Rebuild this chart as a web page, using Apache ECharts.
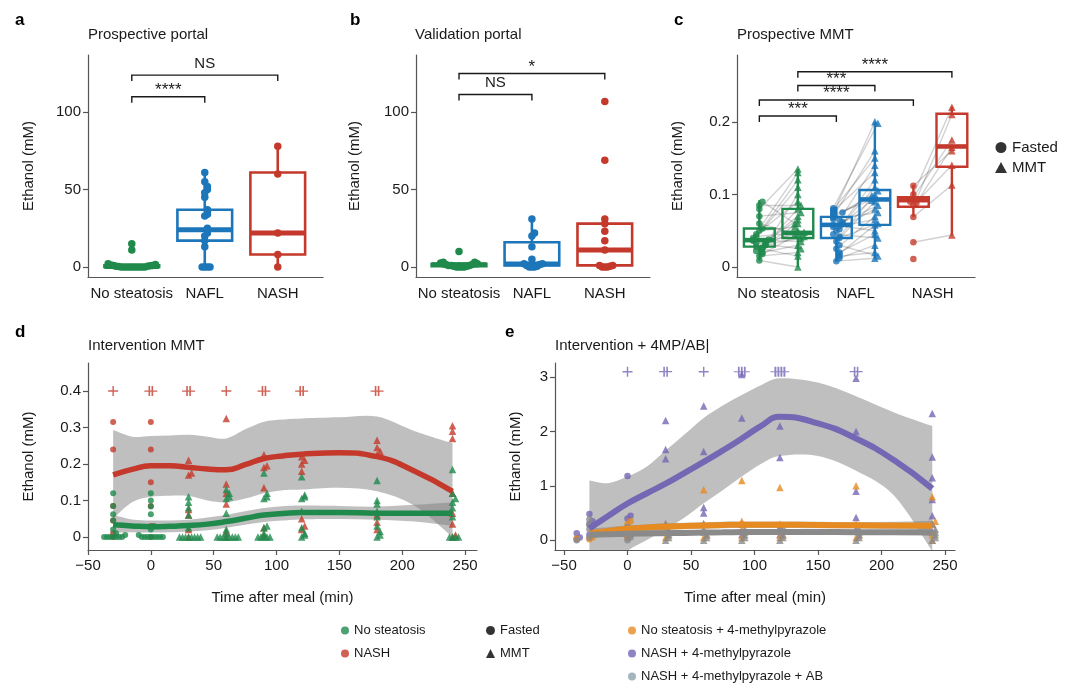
<!DOCTYPE html>
<html>
<head>
<meta charset="utf-8">
<script src="https://cdn.jsdelivr.net/npm/echarts@6/dist/echarts.min.js"></script>
<style>
html, body { margin: 0; background: #fff; }
#main { width: 1080px; height: 692px; }
</style>
</head>
<body>
<div id="main"></div>
<script>
// ---------- data ----------
const catsABC = ['No steatosis', 'NAFL', 'NASH'];

// a: prospective portal (mM)
const aNoSteatosis = [0, 0, 0, 0, 0, 0, 0, 0, 0, 0, 0.3, 0.5, 0.5, 0.8, 1, 1, 1.2, 1.5, 2, 11, 15];
const aNAFL = [0, 0, 0, 0, 13, 17, 20, 22, 24, 25, 33, 34, 36, 37, 45, 48, 50, 52, 55, 61];
const aNASH = [0, 8, 22, 60, 78];
const aBoxes = [[0, 0, 0.3, 1, 2], [0, 17, 24, 37, 61], [0, 8, 22, 61, 78]]; // min q1 med q3 max
const aBrackets = [[1, 2, 110], [1, 3, 124]];
const aBracketLabels = ['****', 'NS'];

// b: validation portal (mM)
const bNoSteatosis = [0, 0, 0, 0, 0.5, 0.5, 1, 1, 1, 1.5, 1.5, 2, 2, 2, 2.5, 3, 3, 10];
const bNAFL = [0, 0, 0, 0.5, 1, 1.5, 2, 2, 5, 13, 20, 22, 31];
const bNASH = [0, 0, 0, 0.5, 1, 1, 11, 17, 23, 28, 31, 69, 107];
const bBoxes = [[0, 0.5, 1.5, 2, 3], [0, 1, 2, 16, 31], [0, 1, 11, 28, 31]];
const bBrackets = [[1, 2, 111.5], [1, 3, 125]];
const bBracketLabels = ['NS', '*'];

// c: prospective MMT, paired fasted / MMT values (mM)
const cNSFasted = [0.009, 0.015, 0.018, 0.02, 0.022, 0.025, 0.027, 0.028, 0.03, 0.031, 0.033, 0.034, 0.035, 0.036, 0.037, 0.038, 0.04, 0.042, 0.045, 0.05, 0.053, 0.06, 0.07, 0.08, 0.085, 0.09];
const cNSMMT = [0, 0.02, 0.045, 0.03, 0.06, 0.015, 0.08, 0.04, 0.1, 0.05, 0.025, 0.07, 0.045, 0.11, 0.035, 0.065, 0.13, 0.048, 0.09, 0.055, 0.12, 0.042, 0.075, 0.135, 0.085, 0.06];
const cNAFLFasted = [0.008, 0.012, 0.015, 0.018, 0.02, 0.025, 0.03, 0.035, 0.04, 0.042, 0.045, 0.05, 0.052, 0.055, 0.057, 0.058, 0.06, 0.062, 0.065, 0.066, 0.068, 0.07, 0.072, 0.074, 0.075, 0.077, 0.079, 0.081];
const cNAFLMMT = [0.012, 0.03, 0.02, 0.058, 0.045, 0.07, 0.015, 0.09, 0.06, 0.1, 0.04, 0.11, 0.08, 0.065, 0.095, 0.05, 0.12, 0.085, 0.14, 0.075, 0.105, 0.16, 0.092, 0.2, 0.098, 0.13, 0.15, 0.198];
const cNASHFasted = [0.011, 0.034, 0.069, 0.085, 0.088, 0.09, 0.093, 0.1, 0.112];
const cNASHMMT = [null, 0.044, 0.113, 0.14, 0.165, 0.175, 0.21, 0.22, 0.16];
const cBoxes = [
  [0.009, 0.028, 0.037, 0.053, 0.092], [0, 0.04, 0.047, 0.08, 0.135],
  [0.007, 0.04, 0.058, 0.069, 0.083], [0.012, 0.058, 0.093, 0.106, 0.2],
  [0.069, 0.083, 0.092, 0.096, 0.113], [0.044, 0.138, 0.166, 0.211, 0.221]
];
const cBrackets = [[0.75, 1.75, 0.208], [0.75, 2.75, 0.23], [1.25, 2.25, 0.25], [1.25, 3.25, 0.269]];
const cBracketLabels = ['***', '****', '***', '****'];

// d: intervention MMT, values per sampling time
const dTimes = [-30, 0, 30, 60, 90, 120, 180, 240];
const dNoSteatosis = [
  [0, 0, 0, 0, 0, 0, 0, 0.005, 0.01, 0.02, 0.045, 0.062, 0.085, 0.12],
  [0, 0, 0, 0, 0, 0, 0, 0, 0.005, 0.02, 0.03, 0.062, 0.083, 0.1, 0.12],
  [0, 0, 0, 0, 0, 0, 0, 0, 0.025, 0.06, 0.08, 0.095, 0.11],
  [0, 0, 0, 0, 0, 0, 0, 0, 0.01, 0.02, 0.065, 0.105, 0.11, 0.12, 0.13],
  [0, 0, 0, 0, 0, 0.01, 0.025, 0.03, 0.105, 0.11, 0.12, 0.175],
  [0, 0.005, 0.01, 0.025, 0.07, 0.105, 0.11, 0.115, 0.165],
  [0, 0.005, 0.015, 0.03, 0.055, 0.07, 0.09, 0.1, 0.155],
  [0, 0, 0, 0, 0.055, 0.08, 0.095, 0.105, 0.12, 0.185]
];
const dNASH = [
  [0, 0.01, 0.045, 0.085, 0.24, 0.315],
  [0, 0.03, 0.085, 0.15, 0.24, 0.315],
  [0, 0.02, 0.06, 0.075, 0.17, 0.175, 0.21],
  [0, 0.015, 0.09, 0.12, 0.145, 0.325],
  [0.005, 0.025, 0.135, 0.19, 0.195, 0.225],
  [0.02, 0.03, 0.05, 0.18, 0.2, 0.21, 0.22],
  [0.02, 0.04, 0.06, 0.225, 0.235, 0.245, 0.265],
  [0, 0.005, 0.035, 0.065, 0.12, 0.27, 0.29, 0.305]
];
const fitTimes = [-30, -15, 0, 15, 30, 45, 60, 75, 90, 105, 120, 150, 180, 210, 240];
const dNASHFit = [0.17, 0.185, 0.195, 0.195, 0.191, 0.186, 0.184, 0.198, 0.215, 0.222, 0.227, 0.231, 0.22, 0.18, 0.125];
const dNASHHi = [0.293, 0.275, 0.277, 0.278, 0.28, 0.275, 0.27, 0.295, 0.316, 0.322, 0.325, 0.328, 0.33, 0.29, 0.257];
const dNASHLo = [0.05, 0.095, 0.11, 0.113, 0.112, 0.1, 0.095, 0.105, 0.12, 0.128, 0.13, 0.135, 0.125, 0.085, 0];
const dNSFit = [0.033, 0.03, 0.028, 0.029, 0.031, 0.035, 0.042, 0.051, 0.06, 0.064, 0.067, 0.067, 0.065, 0.065, 0.065];
const dNSHi = [0.06, 0.048, 0.045, 0.045, 0.047, 0.053, 0.06, 0.07, 0.079, 0.084, 0.086, 0.085, 0.083, 0.088, 0.095];
const dNSLo = [0.012, 0.013, 0.012, 0.013, 0.015, 0.018, 0.025, 0.033, 0.041, 0.045, 0.048, 0.049, 0.047, 0.042, 0.03];
const dSigTimes = [-30, 0, 30, 60, 90, 120, 180];
const dSigCounts = [1, 2, 2, 1, 2, 2, 2];

// e: intervention + 4MP/AB
const eTimes = [-40, -30, 0, 30, 60, 90, 120, 180, 240];
const eNS4MP = [
  [0.03], [0.02, 0.05, 0.1, 0.15], [0.05, 0.1, 0.2, 0.3, 0.35], [0.05, 0.1, 0.2, 0.3],
  [0.05, 0.1, 0.3, 0.93], [0.05, 0.2, 0.35, 1.1], [0.05, 0.1, 0.3, 0.97],
  [0.05, 0.1, 0.3, 1.0], [0, 0.1, 0.3, 0.35, 0.8]
];
const eNASH4MP = [
  [0.02, 0.05, 0.13], [0.1, 0.3, 0.35, 0.48], [0.05, 0.4, 0.45, 1.18], [0.15, 0.3, 1.5, 1.67, 2.2],
  [0.15, 0.3, 0.5, 0.6, 1.63, 2.47], [0.1, 0.3, 2.25, 3.05], [0.1, 0.25, 1.52, 2.1],
  [0.2, 0.42, 0.9, 2.0, 2.98], [0.15, 0.45, 0.75, 1.15, 1.53, 2.33]
];
const eNASH4MPAB = [
  [0], [0.05, 0.1, 0.2, 0.28, 0.38], [0, 0.05, 0.1, 0.15, 0.25], [0, 0.05, 0.1, 0.15, 0.2, 0.3],
  [0, 0.05, 0.1, 0.2, 0.3], [0, 0.05, 0.1, 0.15, 0.2], [0, 0.05, 0.1, 0.2, 0.25],
  [0, 0.05, 0.1, 0.15, 0.2], [0, 0.05, 0.1, 0.15, 0.2, 0.3]
];
const eNASH4MPFit = [0.215, 0.45, 0.675, 0.86, 1.04, 1.24, 1.44, 1.65, 1.87, 2.1, 2.27, 2.15, 1.87, 1.47, 0.95];
const eNASH4MPHi = [1.1, 1.05, 1.17, 1.35, 1.65, 1.95, 2.25, 2.48, 2.67, 2.85, 2.98, 2.9, 2.65, 2.35, 2.1];
const eNASH4MPLo = [-1.0, -0.6, -0.2, 0, 0.2, 0.42, 0.68, 0.92, 1.17, 1.4, 1.55, 1.55, 1.28, 0.82, -0.2];
const eNS4MPFit = [0.12, 0.17, 0.21, 0.235, 0.25, 0.26, 0.27, 0.28, 0.285, 0.285, 0.285, 0.28, 0.275, 0.27, 0.265];
const eNS4MPHi = [0.22, 0.24, 0.27, 0.29, 0.31, 0.32, 0.33, 0.34, 0.345, 0.345, 0.345, 0.34, 0.335, 0.34, 0.36];
const eNS4MPLo = [0.02, 0.1, 0.15, 0.18, 0.19, 0.2, 0.21, 0.22, 0.225, 0.225, 0.225, 0.22, 0.215, 0.2, 0.17];
const eABFit = [0.1, 0.11, 0.12, 0.125, 0.13, 0.135, 0.14, 0.145, 0.15, 0.152, 0.152, 0.15, 0.148, 0.145, 0.14];
const eABHi = [0.16, 0.15, 0.155, 0.16, 0.165, 0.17, 0.175, 0.18, 0.185, 0.187, 0.187, 0.185, 0.183, 0.185, 0.19];
const eABLo = [0.04, 0.07, 0.085, 0.09, 0.095, 0.1, 0.105, 0.11, 0.115, 0.117, 0.117, 0.115, 0.113, 0.105, 0.09];
const eSigTimes = [0, 30, 60, 90, 120, 180];
const eSigCounts = [1, 2, 1, 3, 4, 2];

// ---------- styling ----------
const FONT = '"Liberation Sans", Arial, Helvetica, sans-serif';
const INK = '#1a1a1a';
const AXIS = '#555555';
const GREEN = '#1f8a4c';
const BLUE = '#1c76b9';
const RED = '#c4392b';
const ORANGE = '#e58b22';
const PURPLE = '#7467b3';
const ABDOT = '#8fa3ad';
const ABLINE = '#8a8a8a';
const BANDFILL = 'rgba(128,128,128,0.5)';

const chart = echarts.init(document.getElementById('main'), null, { renderer: 'canvas' });

// simple beeswarm so overlapping points spread sideways
function swarm(values, center, stepX, thrY) {
  const placed = [];
  return values.map(v => {
    if (v === null) return null;
    const k = placed.filter(p => Math.abs(p - v) < thrY).length;
    placed.push(v);
    const off = k === 0 ? 0 : (k % 2 ? 1 : -1) * Math.ceil(k / 2) * stepX;
    return [center + off, v];
  });
}

function boxRender(colors, halfW, lw) {
  return function (params, api) {
    const x = api.value(0);
    const mn = api.value(1), q1 = api.value(2), md = api.value(3), q3 = api.value(4), mx = api.value(5);
    const c = colors[params.dataIndex];
    const tl = api.coord([x - halfW, q3]);
    const br = api.coord([x + halfW, q1]);
    const pMin = api.coord([x, mn]), pQ1 = api.coord([x, q1]);
    const pQ3 = api.coord([x, q3]), pMax = api.coord([x, mx]);
    const mL = api.coord([x - halfW, md]), mR = api.coord([x + halfW, md]);
    return {
      type: 'group',
      children: [
        { type: 'line', shape: { x1: pMin[0], y1: pMin[1], x2: pQ1[0], y2: pQ1[1] }, style: { stroke: c, lineWidth: lw } },
        { type: 'line', shape: { x1: pQ3[0], y1: pQ3[1], x2: pMax[0], y2: pMax[1] }, style: { stroke: c, lineWidth: lw } },
        { type: 'rect', shape: { x: tl[0], y: tl[1], width: br[0] - tl[0], height: Math.max(br[1] - tl[1], 0.5) },
          style: { stroke: c, lineWidth: lw, fill: 'rgba(255,255,255,0)' } },
        { type: 'line', shape: { x1: mL[0], y1: mL[1], x2: mR[0], y2: mR[1] }, style: { stroke: c, lineWidth: lw * 1.9 } }
      ]
    };
  };
}

function bracketRender(labels) {
  return function (params, api) {
    const a = api.coord([api.value(0), api.value(2)]);
    const b = api.coord([api.value(1), api.value(2)]);
    const lab = labels[params.dataIndex];
    const star = lab.indexOf('*') >= 0;
    return {
      type: 'group',
      children: [
        { type: 'polyline', shape: { points: [[a[0], a[1] + 6], [a[0], a[1]], [b[0], b[1]], [b[0], b[1] + 6]] },
          style: { stroke: INK, lineWidth: 1.4, fill: null } },
        { type: 'text', style: { text: lab, x: (a[0] + b[0]) / 2, y: star ? a[1] + 2 : a[1] - 4,
          align: 'center', verticalAlign: 'bottom', fontSize: star ? 17 : 15, fontFamily: FONT, fill: INK } }
      ]
    };
  };
}

// cubic segments through screen points (Catmull-Rom style)
function curveTo(p) {
  let s = '';
  for (let i = 0; i < p.length - 1; i++) {
    const p0 = p[Math.max(i - 1, 0)], p1 = p[i], p2 = p[i + 1], p3 = p[Math.min(i + 2, p.length - 1)];
    const c1 = [p1[0] + (p2[0] - p0[0]) / 6, p1[1] + (p2[1] - p0[1]) / 6];
    const c2 = [p2[0] - (p3[0] - p1[0]) / 6, p2[1] - (p3[1] - p1[1]) / 6];
    s += 'C' + c1.join(',') + ' ' + c2.join(',') + ' ' + p2.join(',');
  }
  return s;
}

function bandRender(params, api) {
  if (params.dataIndexInside !== 0) return null;
  const n = params.dataInsideLength;
  const up = [], lo = [];
  for (let i = 0; i < n; i++) {
    const t = api.value(0, i);
    up.push(api.coord([t, api.value(2, i)]));
    lo.push(api.coord([t, api.value(1, i)]));
  }
  lo.reverse();
  const d = 'M' + up[0].join(',') + curveTo(up) + 'L' + lo[0].join(',') + curveTo(lo) + 'Z';
  const cs = params.coordSys;
  return {
    type: 'path', shape: { pathData: d }, style: { fill: BANDFILL },
    clipPath: { type: 'rect', shape: { x: cs.x, y: cs.y, width: cs.width, height: cs.height } }
  };
}

function plusSymbol(n) {
  const w = 10 + 3 * (n - 1);
  let d = 'M0,5L' + w + ',5';
  for (let i = 0; i < n; i++) {
    const x = 5 + 3 * i;
    d += 'M' + x + ',0L' + x + ',10';
  }
  return { symbol: 'path://' + d, symbolSize: [w, 10] };
}

const series = [];

// ---------- panels a and b ----------
function addPortalPanel(idx, groups, boxes, brackets, labels) {
  const colors = [GREEN, BLUE, RED];
  series.push({
    type: 'custom', xAxisIndex: idx, yAxisIndex: idx, silent: true, z: 2,
    renderItem: boxRender(colors, 0.375, 2.6),
    encode: { x: 0, y: [1, 2, 3, 4, 5] },
    data: boxes.map((b, i) => [i + 1].concat(b))
  });
  groups.forEach((vals, i) => {
    series.push({
      type: 'scatter', xAxisIndex: idx, yAxisIndex: idx, silent: true, z: 3,
      symbol: 'circle', symbolSize: 7.5, itemStyle: { color: colors[i], opacity: 1 },
      data: swarm(vals, i + 1, 0.036, 2.6)
    });
  });
  series.push({
    type: 'custom', xAxisIndex: idx, yAxisIndex: idx, silent: true, z: 5,
    renderItem: bracketRender(labels), encode: { x: [0, 1], y: 2 },
    data: brackets
  });
}
addPortalPanel(0, [aNoSteatosis, aNAFL, aNASH], aBoxes, aBrackets, aBracketLabels);
addPortalPanel(1, [bNoSteatosis, bNAFL, bNASH], bBoxes, bBrackets, bBracketLabels);

// ---------- panel c ----------
const cGroups = [[cNSFasted, cNSMMT, GREEN], [cNAFLFasted, cNAFLMMT, BLUE], [cNASHFasted, cNASHMMT, RED]];
const cPos = [];
const cColors = [];
const cPairs = [];
cGroups.forEach((g, i) => {
  const xf = i + 0.75, xm = i + 1.25;
  cPos.push(xf, xm);
  cColors.push(g[2], g[2]);
  const pf = swarm(g[0], xf, 0.04, 0.005);
  const pm = swarm(g[1], xm, 0.04, 0.005);
  pf.forEach((p, k) => { if (p && pm[k]) cPairs.push({ coords: [p, pm[k]] }); });
  series.push({
    type: 'scatter', xAxisIndex: 2, yAxisIndex: 2, silent: true, z: 3,
    symbol: 'circle', symbolSize: 6.5, itemStyle: { color: g[2] }, data: pf.filter(Boolean)
  });
  series.push({
    type: 'scatter', xAxisIndex: 2, yAxisIndex: 2, silent: true, z: 3,
    symbol: 'triangle', symbolSize: 7.5, itemStyle: { color: g[2] }, data: pm.filter(Boolean)
  });
});
series.push({
  type: 'lines', coordinateSystem: 'cartesian2d', xAxisIndex: 2, yAxisIndex: 2, silent: true, z: 1,
  lineStyle: { color: 'rgba(0,0,0,0.36)', width: 1.4 }, data: cPairs
});
series.push({
  type: 'custom', xAxisIndex: 2, yAxisIndex: 2, silent: true, z: 2,
  renderItem: boxRender(cColors, 0.2, 2.4),
  encode: { x: 0, y: [1, 2, 3, 4, 5] },
  data: cBoxes.map((b, i) => [cPos[i]].concat(b))
});
series.push({
  type: 'custom', xAxisIndex: 2, yAxisIndex: 2, silent: true, z: 5,
  renderItem: bracketRender(cBracketLabels), encode: { x: [0, 1], y: 2 },
  data: cBrackets
});

// ---------- panels d and e ----------
function addBand(idx, lo, hi) {
  series.push({
    type: 'custom', xAxisIndex: idx, yAxisIndex: idx, silent: true, z: 1,
    renderItem: bandRender, encode: { x: 0, y: [1, 2] },
    data: fitTimes.map((t, i) => [t, lo[i], hi[i]])
  });
}
function addFit(idx, fit, color, width) {
  series.push({
    type: 'line', xAxisIndex: idx, yAxisIndex: idx, smooth: true, symbol: 'none', silent: true, z: 4,
    lineStyle: { color: color, width: width }, data: fitTimes.map((t, i) => [t, fit[i]])
  });
}
function addTimePoints(idx, times, groups, color, stepX, thrY, circleSize, triSize) {
  const fasted = [], mmt = [];
  times.forEach((t, i) => {
    const pts = swarm(groups[i], t, stepX, thrY);
    (t <= 0 ? fasted : mmt).push(...pts);
  });
  series.push({
    type: 'scatter', xAxisIndex: idx, yAxisIndex: idx, silent: true, z: 3,
    symbol: 'circle', symbolSize: circleSize, itemStyle: { color: color }, data: fasted
  });
  series.push({
    type: 'scatter', xAxisIndex: idx, yAxisIndex: idx, silent: true, z: 3,
    symbol: 'triangle', symbolSize: triSize, itemStyle: { color: color }, data: mmt
  });
}
function addSig(idx, times, counts, y, color) {
  series.push({
    type: 'scatter', xAxisIndex: idx, yAxisIndex: idx, silent: true, z: 6,
    itemStyle: { color: 'rgba(0,0,0,0)', borderColor: color, borderWidth: 1.4 },
    data: times.map((t, i) => Object.assign({ value: [t, y] }, plusSymbol(counts[i])))
  });
}

// d
addBand(3, dNASHLo, dNASHHi);
addBand(3, dNSLo, dNSHi);
addTimePoints(3, dTimes, dNASH, RED, 2.4, 0.01, 6, 7.5);
addTimePoints(3, dTimes, dNoSteatosis, GREEN, 2.4, 0.01, 6, 7.5);
addFit(3, dNASHFit, RED, 5.5);
addFit(3, dNSFit, GREEN, 5.5);
addSig(3, dSigTimes, dSigCounts, 0.4, RED);

// e
addBand(4, eNASH4MPLo, eNASH4MPHi);
addBand(4, eNS4MPLo, eNS4MPHi);
addBand(4, eABLo, eABHi);
addTimePoints(4, eTimes, eNASH4MP, PURPLE, 2.4, 0.06, 6.5, 7.5);
addTimePoints(4, eTimes, eNS4MP, ORANGE, 2.4, 0.06, 6.5, 7.5);
addTimePoints(4, eTimes, eNASH4MPAB, ABLINE, 2.4, 0.06, 6.5, 7.5);
addFit(4, eNASH4MPFit, PURPLE, 6);
addFit(4, eNS4MPFit, ORANGE, 6);
addFit(4, eABFit, ABLINE, 6);
addSig(4, eSigTimes, eSigCounts, 3.1, PURPLE);

// legend-only series
const legendItems = [
  ['No steatosis', GREEN, 'circle'], ['NASH', RED, 'circle'],
  ['Fasted', '#000', 'circle'], ['MMT', '#000', 'triangle'],
  ['No steatosis + 4-methylpyrazole', ORANGE, 'circle'],
  ['NASH + 4-methylpyrazole', PURPLE, 'circle'],
  ['NASH + 4-methylpyrazole + AB', ABDOT, 'circle']
];
legendItems.forEach(li => {
  series.push({ name: li[0], type: 'scatter', xAxisIndex: 3, yAxisIndex: 3, symbol: li[2], itemStyle: { color: li[1] }, data: [] });
});

// ---------- axes ----------
const axisLine = { show: true, onZero: false, lineStyle: { color: AXIS, width: 1.2 } };
function catX(grid, min, max) {
  return {
    type: 'value', gridIndex: grid, min: min, max: max,
    axisLine: axisLine, axisTick: { show: false }, splitLine: { show: false },
    axisLabel: { customValues: [1, 2, 3], formatter: v => catsABC[Math.round(v) - 1], fontSize: 15, color: INK, fontFamily: FONT, margin: 9 }
  };
}
function timeX(grid, min, max) {
  return {
    type: 'value', gridIndex: grid, min: min, max: max,
    name: 'Time after meal (min)', nameLocation: 'middle', nameGap: 40,
    nameTextStyle: { fontSize: 15, color: INK, fontFamily: FONT },
    axisLine: axisLine, splitLine: { show: false },
    axisTick: { customValues: [-50, 0, 50, 100, 150, 200, 250], length: 5, lineStyle: { color: AXIS, width: 1.2 } },
    axisLabel: { customValues: [-50, 0, 50, 100, 150, 200, 250], formatter: v => (v < 0 ? '\u2212' + Math.abs(v) : String(v)),
      fontSize: 15, color: INK, fontFamily: FONT, margin: 8 }
  };
}
function ethY(grid, min, max, ticks, gap) {
  return {
    type: 'value', gridIndex: grid, min: min, max: max,
    name: 'Ethanol (mM)', nameLocation: 'middle', nameGap: gap, nameRotate: 90,
    nameTextStyle: { fontSize: 15, color: INK, fontFamily: FONT },
    axisLine: axisLine, splitLine: { show: false },
    axisTick: { customValues: ticks, length: 5, lineStyle: { color: AXIS, width: 1.2 } },
    axisLabel: { customValues: ticks, fontSize: 15, color: INK, fontFamily: FONT, margin: 7 }
  };
}

const titleStyle = { fontSize: 15, fontWeight: 'normal', color: INK, fontFamily: FONT };
const letterStyle = { fontSize: 17, fontWeight: 'bold', color: '#000', fontFamily: FONT };
const legendText = { fontSize: 13, color: INK, fontFamily: FONT };

chart.setOption({
  animation: false,
  backgroundColor: '#fff',
  title: [
    { text: 'a', left: 15, top: 12, padding: 0, textStyle: letterStyle },
    { text: 'Prospective portal', left: 88, top: 27, padding: 0, textStyle: titleStyle },
    { text: 'b', left: 350, top: 12, padding: 0, textStyle: letterStyle },
    { text: 'Validation portal', left: 415, top: 27, padding: 0, textStyle: titleStyle },
    { text: 'c', left: 674, top: 12, padding: 0, textStyle: letterStyle },
    { text: 'Prospective MMT', left: 737, top: 27, padding: 0, textStyle: titleStyle },
    { text: 'd', left: 15, top: 324, padding: 0, textStyle: letterStyle },
    { text: 'Intervention MMT', left: 88, top: 338, padding: 0, textStyle: titleStyle },
    { text: 'e', left: 505, top: 324, padding: 0, textStyle: letterStyle },
    { text: 'Intervention + 4MP/AB|', left: 555, top: 338, padding: 0, textStyle: titleStyle }
  ],
  legend: [
    { data: [{ name: 'Fasted', icon: 'circle' }, { name: 'MMT', icon: 'triangle' }], orient: 'vertical',
      left: 995, top: 140, padding: 0, itemWidth: 12, itemHeight: 11, itemGap: 5, selectedMode: false,
      textStyle: { fontSize: 15, color: INK, fontFamily: FONT } },
    { data: [{ name: 'No steatosis', icon: 'circle' }, { name: 'NASH', icon: 'circle' }], orient: 'vertical',
      left: 341, top: 624, padding: 0, itemWidth: 8, itemHeight: 8, itemGap: 10, selectedMode: false, textStyle: legendText },
    { data: [{ name: 'Fasted', icon: 'circle' }, { name: 'MMT', icon: 'triangle' }], orient: 'vertical',
      left: 486, top: 624, padding: 0, itemWidth: 9, itemHeight: 9, itemGap: 10, selectedMode: false, textStyle: legendText },
    { data: [{ name: 'No steatosis + 4-methylpyrazole', icon: 'circle' }, { name: 'NASH + 4-methylpyrazole', icon: 'circle' },
      { name: 'NASH + 4-methylpyrazole + AB', icon: 'circle' }], orient: 'vertical',
      left: 628, top: 624, padding: 0, itemWidth: 8, itemHeight: 8, itemGap: 10, selectedMode: false, textStyle: legendText }
  ],
  grid: [
    { left: 88, top: 55, width: 235, height: 222 },
    { left: 416, top: 55, width: 234, height: 222 },
    { left: 737, top: 55, width: 238, height: 222 },
    { left: 88, top: 363, width: 389, height: 187 },
    { left: 555, top: 363, width: 400, height: 187 }
  ],
  xAxis: [
    catX(0, 0.4, 3.62),
    catX(1, 0.41, 3.62),
    catX(2, 0.46, 3.55),
    timeX(3, -50, 259.5),
    timeX(4, -57.1, 257.9)
  ],
  yAxis: [
    ethY(0, -6.5, 137, [0, 50, 100], 52),
    ethY(1, -6.5, 137, [0, 50, 100], 54),
    ethY(2, -0.0138, 0.292, [0, 0.1, 0.2], 52),
    ethY(3, -0.036, 0.477, [0, 0.1, 0.2, 0.3, 0.4], 52),
    ethY(4, -0.18, 3.26, [0, 1, 2, 3], 32)
  ],
  series: series
});
</script>
</body>
</html>
